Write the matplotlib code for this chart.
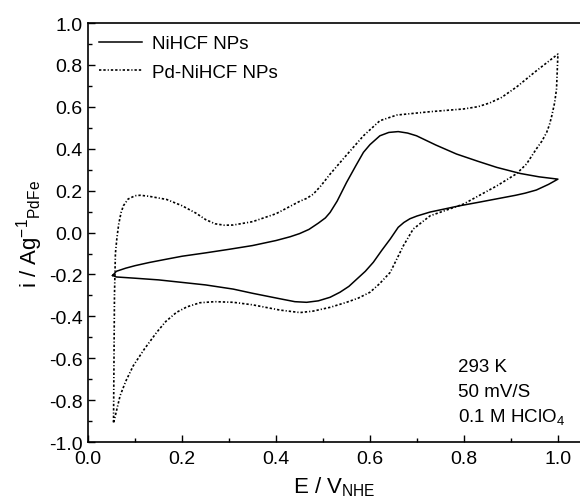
import numpy as np
import matplotlib
matplotlib.use("Agg")
import matplotlib.pyplot as plt
from matplotlib.ticker import MultipleLocator

plt.rcParams['font.family'] = ['Liberation Sans', 'DejaVu Sans']
plt.rcParams['mathtext.fontset'] = 'custom'
plt.rcParams['mathtext.rm'] = 'Liberation Sans'
plt.rcParams['mathtext.default'] = 'regular'

# NiHCF NPs (solid): anodic sweep then cathodic sweep
E_ni = [0.052, 0.06, 0.08, 0.10, 0.13, 0.167, 0.20, 0.25, 0.30, 0.35, 0.40, 0.43,
        0.45, 0.47, 0.49, 0.505, 0.515, 0.53, 0.55, 0.57, 0.586, 0.60, 0.621, 0.64,
        0.66, 0.68, 0.699, 0.74, 0.784, 0.83, 0.87, 0.92, 0.96, 1.0,
        0.98, 0.954, 0.93, 0.91, 0.87, 0.83, 0.791, 0.728, 0.70, 0.685, 0.672,
        0.66, 0.643, 0.625, 0.607, 0.59, 0.572, 0.555, 0.536, 0.515, 0.49, 0.465,
        0.44, 0.408, 0.35, 0.309, 0.25, 0.20, 0.15, 0.10, 0.06, 0.052]
i_ni = [-0.205, -0.185, -0.170, -0.158, -0.143, -0.127, -0.113, -0.097, -0.080,
        -0.062, -0.038, -0.020, -0.005, 0.015, 0.045, 0.070, 0.096, 0.150, 0.239,
        0.320, 0.383, 0.420, 0.462, 0.478, 0.482, 0.475, 0.462, 0.418, 0.375,
        0.340, 0.311, 0.282, 0.266, 0.255,
        0.230, 0.203, 0.188, 0.178, 0.161, 0.144, 0.128, 0.098, 0.079, 0.066,
        0.048, 0.025, -0.031, -0.085, -0.142, -0.185, -0.222, -0.257, -0.285,
        -0.309, -0.326, -0.333, -0.330, -0.316, -0.290, -0.270, -0.250, -0.238,
        -0.226, -0.218, -0.212, -0.205]

# Pd-NiHCF NPs (dashed)
E_pd = [0.054, 0.055, 0.056, 0.058, 0.061, 0.065, 0.070, 0.075, 0.085, 0.10,
        0.111, 0.13, 0.167, 0.20, 0.23, 0.25, 0.27, 0.29, 0.309, 0.35, 0.40,
        0.451, 0.465, 0.479, 0.495, 0.515, 0.55, 0.586, 0.621, 0.657, 0.728,
        0.799, 0.83, 0.855, 0.88, 0.912, 0.954, 1.0,
        0.997, 0.993, 0.987, 0.982, 0.976, 0.966, 0.954, 0.933, 0.912, 0.870,
        0.799, 0.728, 0.692, 0.671, 0.643, 0.620, 0.600, 0.575, 0.55, 0.515,
        0.479, 0.451, 0.408, 0.35, 0.309, 0.27, 0.238, 0.21, 0.188, 0.165,
        0.146, 0.12, 0.096, 0.08, 0.068, 0.057, 0.054]
i_pd = [-0.906, -0.6, -0.3, -0.10, -0.03, 0.04, 0.095, 0.128, 0.160, 0.176,
        0.178, 0.173, 0.158, 0.128, 0.092, 0.062, 0.042, 0.035, 0.036, 0.052,
        0.090, 0.150, 0.163, 0.183, 0.222, 0.279, 0.370, 0.462, 0.534, 0.561,
        0.577, 0.590, 0.601, 0.619, 0.645, 0.695, 0.772, 0.852,
        0.685, 0.620, 0.558, 0.515, 0.478, 0.437, 0.399, 0.327, 0.281, 0.223,
        0.136, 0.080, 0.017, -0.063, -0.190, -0.245, -0.285, -0.313, -0.333,
        -0.357, -0.375, -0.382, -0.370, -0.345, -0.333, -0.330, -0.335, -0.355,
        -0.381, -0.425, -0.476, -0.555, -0.636, -0.71, -0.779, -0.882, -0.906]

labels = ['NiHCF NPs', 'Pd-NiHCF NPs']
notes = ['293 K', '50 mV/S', '0.1 M HClO$_4$']

fig = plt.figure(figsize=(5.8, 5.02), dpi=100)
ax = fig.add_axes([0.152, 0.1175, 0.848, 0.8345])

ax.plot(E_ni, i_ni, color='black', lw=1.1, label=labels[0])
ax.plot(E_pd, i_pd, color='black', lw=1.2,
        linestyle=(0, (1.4, 1.2, 1.4, 1.2, 0.7, 1.2)), label=labels[1])

ax.set_xlim(0, 1.047)
ax.set_ylim(-1.0, 1.0)
ax.xaxis.set_major_locator(MultipleLocator(0.2))
ax.xaxis.set_minor_locator(MultipleLocator(0.1))
ax.yaxis.set_major_locator(MultipleLocator(0.2))
ax.yaxis.set_minor_locator(MultipleLocator(0.1))
ax.xaxis.set_major_formatter(plt.FormatStrFormatter('%.1f'))
ax.yaxis.set_major_formatter(plt.FormatStrFormatter('%.1f'))

ax.tick_params(which='both', direction='in', top=False, right=False, width=1.0, labelsize=14)
ax.tick_params(which='major', length=5)
ax.tick_params(which='minor', length=3)
ax.tick_params(axis='x', pad=6)
ax.tick_params(axis='y', pad=4)
ax.spines['right'].set_visible(False)
for s in ['left', 'bottom', 'top']:
    ax.spines[s].set_linewidth(1.2)

ax.set_xlabel('E / V$_{NHE}$', fontsize=16, labelpad=5)
ax.set_ylabel('i / Ag$^{-1}$$_{PdFe}$', fontsize=16, labelpad=3)

ax.legend(loc='upper left', bbox_to_anchor=(0.01, 0.985), frameon=False, fontsize=13.5,
          handlelength=2.3, handletextpad=0.55, labelspacing=0.6,
          borderaxespad=0, borderpad=0.3)

for k, y in enumerate([0.1695, 0.1098, 0.050]):
    ax.text(0.752, y, notes[k], transform=ax.transAxes, fontsize=13.5, va='baseline')

fig.savefig('out.png', dpi=100)
